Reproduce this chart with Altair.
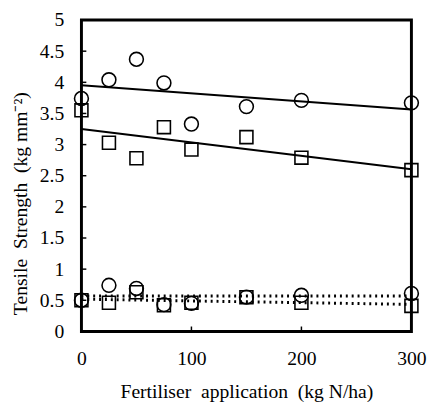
import altair as alt
import pandas as pd

x_vals = [0, 25, 50, 75, 100, 150, 200, 300]
circle_high = [3.74, 4.04, 4.37, 3.99, 3.33, 3.61, 3.71, 3.67]
square_high = [3.55, 3.03, 2.78, 3.28, 2.92, 3.12, 2.79, 2.59]
circle_low = [0.50, 0.74, 0.69, 0.43, 0.45, 0.55, 0.58, 0.61]
square_low = [0.50, 0.46, 0.63, 0.42, 0.46, 0.55, 0.46, 0.41]
y_ticks = [0, 0.5, 1, 1.5, 2, 2.5, 3, 3.5, 4, 4.5, 5]
x_ticks = [0, 100, 200, 300]

FONT = "Liberation Serif"

x_scale = alt.Scale(domain=[0, 300], nice=False, zero=False)
y_scale = alt.Scale(domain=[0, 5], nice=False)

x_axis = alt.Axis(values=x_ticks, tickSize=0, domain=False, grid=False, labelFlush=False,
                  labelFontSize=20, labelColor="black",
                  labelPadding=18, title="Fertiliser\u00a0 application\u00a0 (kg N/ha)",
                  titleFontSize=20, titleFontWeight="normal",
                  titleColor="black", titlePadding=13)
y_axis = alt.Axis(values=y_ticks, tickSize=0, domain=False, grid=False, format="~g",
                  labelFlush=False,
                  labelFontSize=20, labelColor="black",
                  labelPadding=18, title="Tensile\u00a0 Strength\u00a0 (kg mm\u207b\u00b2)",
                  titleFontSize=20, titleFontWeight="normal",
                  titleColor="black", titleX=-62, titleY=187, titleAngle=270,
                  titleAlign="center", titleBaseline="middle")

X = alt.X("x:Q", scale=x_scale, axis=x_axis)
Y = alt.Y("y:Q", scale=y_scale, axis=y_axis)


def series_df(vals):
    return pd.DataFrame({"x": x_vals, "y": vals})


layers = []
specs = [
    (circle_high, "circle", 200, None),
    (square_high, "square", 175, None),
    (circle_low, "circle", 200, [2, 4]),
    (square_low, "square", 175, [2, 4]),
]
for vals, shape, size, dash in specs:
    df = series_df(vals)
    line_kwargs = dict(color="black", strokeWidth=2 if dash is None else 3, clip=False)
    if dash is not None:
        line_kwargs["strokeDash"] = dash
    line = alt.Chart(df).transform_regression("x", "y").mark_line(**line_kwargs).encode(x=X, y=Y)
    pts = alt.Chart(df).mark_point(shape=shape, filled=False, size=size, color="black",
                                   strokeWidth=1.6, opacity=1).encode(x=X, y=Y)
    layers.append(line)
    layers.append(pts)

ytick_df = pd.DataFrame({"y": y_ticks[1:-1]})
ytick_rules = alt.Chart(ytick_df).mark_rule(color="black", strokeWidth=1.5).encode(
    y=Y, x=alt.value(0), x2=alt.value(5))
xtick_df = pd.DataFrame({"x": x_ticks[1:-1]})
xtick_rules = alt.Chart(xtick_df).mark_rule(color="black", strokeWidth=1.5).encode(
    x=X, y=alt.value(318), y2=alt.value(313))

chart = alt.layer(*layers, ytick_rules, xtick_rules).properties(
    width=337, height=318,
    autosize=alt.AutoSizeParams(type="none"),
    padding={"left": 75, "top": 8, "right": 20, "bottom": 78},
    background="white",
).configure(font=FONT).configure_axis(
    labelFont=FONT, titleFont=FONT
).configure_view(stroke="black", strokeWidth=3)

chart.save("out.html", embed_options={"renderer": "svg", "actions": False})
